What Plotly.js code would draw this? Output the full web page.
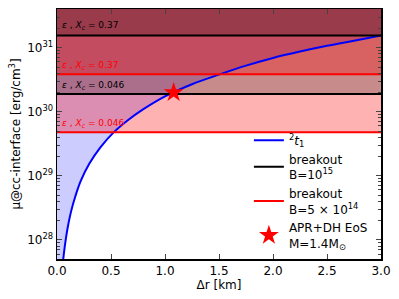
<!DOCTYPE html>
<html><head><meta charset="utf-8">
<script src="https://cdn.plot.ly/plotly-3.0.1.min.js"></script>
<style>body{margin:0;padding:0;}#plot{width:399px;height:299px;}</style>
</head><body><div id="plot"></div>
<script>
// curve 2t1: Δr [km] vs μ at cc-interface [erg/cm^3] (log10 values)
const curveX = [0.058, 0.07, 0.085, 0.1, 0.13, 0.17, 0.22, 0.3, 0.4, 0.52, 0.65, 0.8, 1.0, 1.25, 1.5, 1.75, 2.0, 2.25, 2.5, 2.75, 3.0];
const curveLogY = [27.70, 27.87, 28.05, 28.2, 28.44, 28.68, 28.92, 29.19, 29.44, 29.67, 29.86, 30.04, 30.24, 30.43, 30.58, 30.72, 30.84, 30.94, 31.03, 31.11, 31.19];
const curveY = curveLogY.map(v => Math.pow(10, v));
// breakout levels
const blackLevels = [1.89e30, 1.55e31];      // B=1e15: eps,Xc = 0.046, 0.37
const redLevels = [4.8e29, 3.84e30];         // B=5e14: eps,Xc = 0.046, 0.37
const levelLabels = ["0.046", "0.37"];
const starX = [1.08];
const starY = [2.0e30];
const xRange = [0, 3];
const yLogRange = [27.70, 31.605];
const yTickVals = [1e28, 1e29, 1e30, 1e31];
const yTickText = ["10<sup>28</sup>", "10<sup>29</sup>", "10<sup>30</sup>", "10<sup>31</sup>"];
const xTickVals = [0, 0.5, 1.0, 1.5, 2.0, 2.5, 3.0];
const xTickText = ["0.0", "0.5", "1.0", "1.5", "2.0", "2.5", "3.0"];

const yTop = Math.pow(10, yLogRange[1]);
const traces = [];
// blue fill above curve
traces.push({x: curveX.concat([xRange[1], xRange[0], xRange[0]]),
  y: curveY.concat([yTop, yTop, curveY[0]]),
  mode: 'none', fill: 'toself', fillcolor: 'rgba(0,0,255,0.2)', showlegend: false, hoverinfo: 'skip'});
// level fills (sorted ascending)
const levels = [];
blackLevels.forEach(v => levels.push({v, c: 'black'}));
redLevels.forEach(v => levels.push({v, c: 'red'}));
levels.sort((a, b) => a.v - b.v);
levels.forEach(l => {
  traces.push({x: [xRange[0], xRange[1], xRange[1], xRange[0]], y: [l.v, l.v, yTop, yTop],
    mode: 'none', fill: 'toself', fillcolor: l.c === 'red' ? 'rgba(255,0,0,0.3)' : 'rgba(0,0,0,0.22)',
    showlegend: false, hoverinfo: 'skip'});
});
// curve
traces.push({x: curveX, y: curveY, mode: 'lines', line: {color: 'blue', width: 2, shape: 'spline'},
  name: '<sup>2</sup><i>t</i><sub>1</sub>'});
// black lines
blackLevels.forEach((v, i) => traces.push({x: xRange, y: [v, v], mode: 'lines', line: {color: 'black', width: 2},
  name: 'breakout<br>B=10<sup>15</sup>', legendgroup: 'b', showlegend: i === 0}));
redLevels.forEach((v, i) => traces.push({x: xRange, y: [v, v], mode: 'lines', line: {color: 'red', width: 2},
  name: 'breakout<br>B=5 × 10<sup>14</sup>', legendgroup: 'r', showlegend: i === 0}));
traces.push({x: starX, y: starY, mode: 'markers', marker: {symbol: 'star', size: 15, color: 'red'},
  name: 'APR+DH EoS<br>M=1.4M<sub>⊙</sub>'});

const annotations = [];
blackLevels.forEach((v, i) => annotations.push({x: 0.03, y: Math.log10(v), xref: 'x', yref: 'y',
  text: '<i>ε</i> , <i>X</i><sub><i>c</i></sub> = ' + levelLabels[i], showarrow: false, xanchor: 'left', yanchor: 'bottom',
  yshift: i === 1 ? 3 : 1, font: {family: 'DejaVu Sans', size: 9, color: 'black'}}));
redLevels.forEach((v, i) => annotations.push({x: 0.03, y: Math.log10(v), xref: 'x', yref: 'y',
  text: '<i>ε</i> , <i>X</i><sub><i>c</i></sub> = ' + levelLabels[i], showarrow: false, xanchor: 'left', yanchor: 'bottom',
  yshift: 1, font: {family: 'DejaVu Sans', size: 9, color: 'red'}}));

const layout = {
  width: 399, height: 299,
  margin: {l: 57, r: 18, t: 9, b: 40},
  paper_bgcolor: 'white', plot_bgcolor: 'white',
  font: {family: 'DejaVu Sans', size: 12, color: 'black'},
  showlegend: true,
  legend: {x: 0.975, y: 0.005, xanchor: 'right', yanchor: 'bottom', bgcolor: 'rgba(0,0,0,0)',
    font: {size: 12}, tracegroupgap: 0, itemwidth: 30},
  xaxis: {range: xRange, tickvals: xTickVals, ticktext: xTickText, ticks: 'inside', ticklen: 5,
    showgrid: false, zeroline: false, showline: true, linecolor: 'black', linewidth: 1.5, mirror: 'allticks',
    tickfont: {size: 12},
    title: {text: 'Δr [km]', font: {size: 12}, standoff: 2}},
  yaxis: {type: 'log', range: yLogRange, tickvals: yTickVals, ticktext: yTickText, ticks: 'inside', ticklen: 5,
    minor: {ticks: 'inside', ticklen: 3, dtick: 'D1', showgrid: false},
    showgrid: false, zeroline: false, showline: true, linecolor: 'black', linewidth: 1.5, mirror: 'allticks',
    tickfont: {size: 12},
    title: {text: 'μ@cc-interface [erg/cm<sup>3</sup>]', font: {size: 12}, standoff: 4}},
  annotations: annotations
};
Plotly.newPlot('plot', traces, layout, {displayModeBar: false, staticPlot: true});
</script></body></html>
